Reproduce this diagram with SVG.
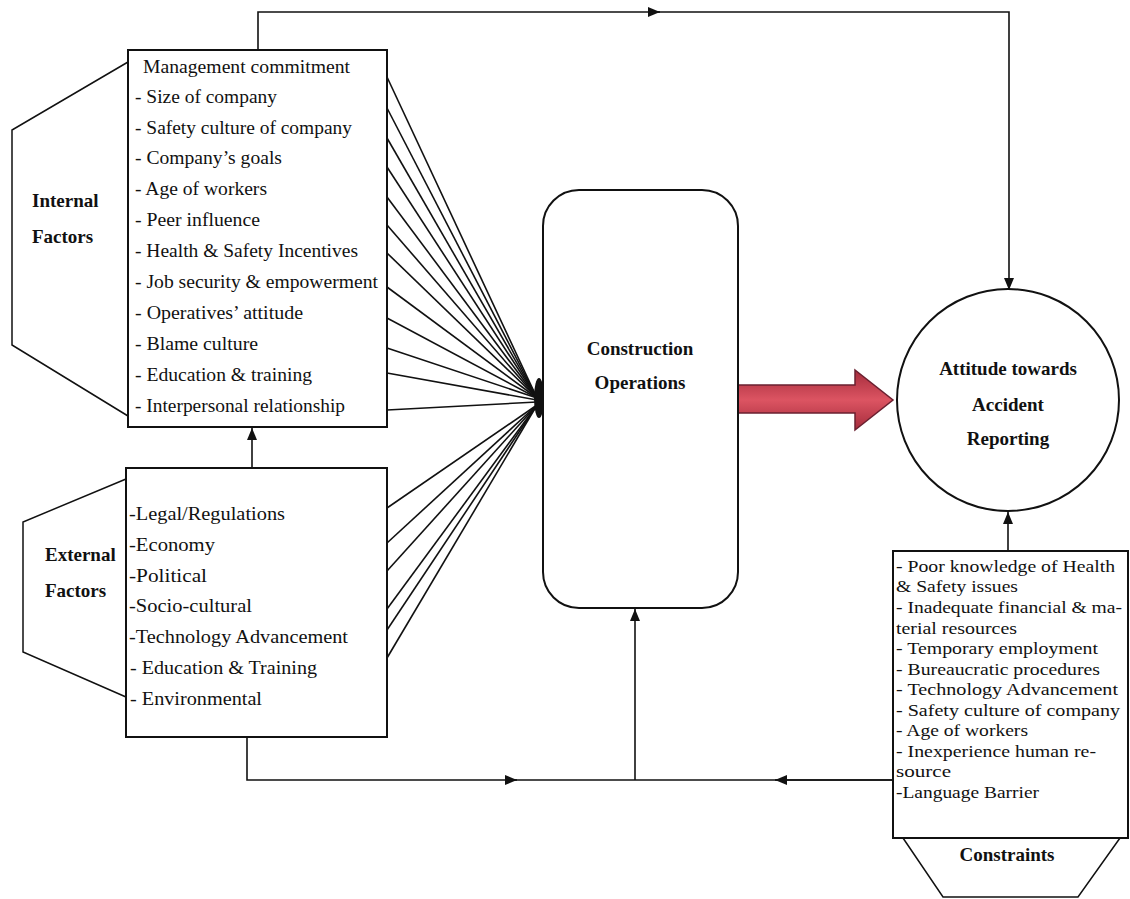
<svg xmlns="http://www.w3.org/2000/svg" width="1130" height="899" viewBox="0 0 1130 899">
<defs>
<style>
.box{fill:#fff;stroke:#111;stroke-width:2}
.thin{fill:none;stroke:#111;stroke-width:1.5}
.ln{fill:none;stroke:#111;stroke-width:1.6}
.it{font-family:"Liberation Serif","Times New Roman",serif;font-size:19px;fill:#111}
.ct{font-family:"Liberation Serif","Times New Roman",serif;font-size:17px;fill:#111}
.bd{font-family:"Liberation Serif","Times New Roman",serif;font-size:19px;font-weight:bold;fill:#111}
</style>
<marker id="ah" markerUnits="userSpaceOnUse" markerWidth="12" markerHeight="10" refX="12" refY="5" orient="auto">
<path d="M0,0 L12,5 L0,10 z" fill="#111"/>
</marker>
<linearGradient id="red" x1="0" y1="0" x2="0" y2="1">
<stop offset="0" stop-color="#a52c3c"/>
<stop offset="0.5" stop-color="#dc5462"/>
<stop offset="1" stop-color="#a52c3c"/>
</linearGradient>
</defs>
<rect width="1130" height="899" fill="#fff"/>

<g id="connectors">
<path class="ln" d="M258,50 L258,12 L660,12" marker-end="url(#ah)"/>
<path class="ln" d="M655,12 L1009,12 L1009,290" marker-end="url(#ah)"/>
<path class="ln" d="M252,467 L252,428" marker-end="url(#ah)"/>
<path class="ln" d="M247,737 L247,780 L517,780" marker-end="url(#ah)"/>
<path class="ln" d="M512,780 L893,780"/>
<path class="ln" d="M893,780 L775,780" marker-end="url(#ah)"/>
<path class="ln" d="M635,780 L635,609" marker-end="url(#ah)"/>
<path class="ln" d="M1008,551 L1008,512" marker-end="url(#ah)"/>
<g class="ln">
<line x1="387" y1="77" x2="537" y2="398"/>
<line x1="387" y1="108" x2="537" y2="398"/>
<line x1="387" y1="138" x2="537" y2="398"/>
<line x1="387" y1="167" x2="537" y2="398"/>
<line x1="387" y1="197" x2="537" y2="398"/>
<line x1="387" y1="225" x2="537" y2="398"/>
<line x1="387" y1="253" x2="537" y2="398"/>
<line x1="387" y1="287" x2="537" y2="398"/>
<line x1="387" y1="318" x2="537" y2="398"/>
<line x1="387" y1="348" x2="537" y2="398"/>
<line x1="387" y1="373" x2="537" y2="400"/>
<line x1="387" y1="410" x2="537" y2="402"/>
<line x1="387" y1="508" x2="537" y2="405"/>
<line x1="387" y1="543" x2="537" y2="405"/>
<line x1="387" y1="571" x2="537" y2="405"/>
<line x1="387" y1="609" x2="537" y2="405"/>
<line x1="387" y1="630" x2="537" y2="405"/>
<line x1="387" y1="658" x2="537" y2="405"/>
</g>
<ellipse cx="539" cy="398" rx="5" ry="20" fill="#111"/>
<polygon points="738,385 855,385 855,370 893,400 855,430 855,413 738,413" fill="url(#red)" stroke="#6a2030" stroke-width="1.5"/>
</g>

<g id="internal">
<path class="thin" d="M128,62 L12,130 L12,345 L128,416"/>
<rect class="box" x="128" y="50" width="259" height="377"/>
<text class="bd" x="32" y="207">Internal</text>
<text class="bd" x="32" y="243">Factors</text>
<text class="it" x="143" y="73" textLength="207" lengthAdjust="spacingAndGlyphs">Management commitment</text>
<text class="it" x="135" y="103" textLength="142" lengthAdjust="spacingAndGlyphs">- Size of company</text>
<text class="it" x="135" y="134" textLength="217" lengthAdjust="spacingAndGlyphs">- Safety culture of company</text>
<text class="it" x="135" y="164" textLength="147" lengthAdjust="spacingAndGlyphs">- Company’s goals</text>
<text class="it" x="135" y="195" textLength="132" lengthAdjust="spacingAndGlyphs">- Age of workers</text>
<text class="it" x="135" y="226" textLength="125" lengthAdjust="spacingAndGlyphs">- Peer influence</text>
<text class="it" x="135" y="257" textLength="223" lengthAdjust="spacingAndGlyphs">- Health &amp; Safety Incentives</text>
<text class="it" x="135" y="288" textLength="243" lengthAdjust="spacingAndGlyphs">- Job security &amp; empowerment</text>
<text class="it" x="135" y="319" textLength="168" lengthAdjust="spacingAndGlyphs">- Operatives’ attitude</text>
<text class="it" x="135" y="350" textLength="123" lengthAdjust="spacingAndGlyphs">- Blame culture</text>
<text class="it" x="135" y="381" textLength="177" lengthAdjust="spacingAndGlyphs">- Education &amp; training</text>
<text class="it" x="135" y="412" textLength="210" lengthAdjust="spacingAndGlyphs">- Interpersonal relationship</text>
</g>

<g id="external">
<path class="thin" d="M126,479 L23,522 L23,652 L126,697"/>
<rect class="box" x="126" y="468" width="261" height="269"/>
<text class="bd" x="45" y="561">External</text>
<text class="bd" x="45" y="597">Factors</text>
<text class="it" x="129" y="520" textLength="156" lengthAdjust="spacingAndGlyphs">-Legal/Regulations</text>
<text class="it" x="129" y="551" textLength="86" lengthAdjust="spacingAndGlyphs">-Economy</text>
<text class="it" x="129" y="582" textLength="78" lengthAdjust="spacingAndGlyphs">-Political</text>
<text class="it" x="129" y="612" textLength="123" lengthAdjust="spacingAndGlyphs">-Socio-cultural</text>
<text class="it" x="129" y="643" textLength="219" lengthAdjust="spacingAndGlyphs">-Technology Advancement</text>
<text class="it" x="130" y="674" textLength="187" lengthAdjust="spacingAndGlyphs">-  Education &amp; Training</text>
<text class="it" x="130" y="705" textLength="132" lengthAdjust="spacingAndGlyphs">-  Environmental</text>
</g>

<g id="construction">
<rect class="box" x="543" y="190" width="195" height="418" rx="36" ry="36"/>
<text class="bd" x="640" y="355" text-anchor="middle">Construction</text>
<text class="bd" x="640" y="389" text-anchor="middle">Operations</text>
</g>

<g id="attitude">
<circle class="box" cx="1008" cy="400" r="111"/>
<text class="bd" x="1008" y="375" text-anchor="middle">Attitude towards</text>
<text class="bd" x="1008" y="411" text-anchor="middle">Accident</text>
<text class="bd" x="1008" y="445" text-anchor="middle">Reporting</text>
</g>

<g id="constraints">
<path class="thin" d="M903,838 L943,897 L1078,897 L1120,838"/>
<rect class="box" x="893" y="551" width="235" height="287"/>
<text class="bd" x="1007" y="861" text-anchor="middle">Constraints</text>
<text class="ct" x="896" y="572" textLength="219" lengthAdjust="spacingAndGlyphs">- Poor knowledge of Health</text>
<text class="ct" x="896" y="592" textLength="122" lengthAdjust="spacingAndGlyphs">&amp; Safety issues</text>
<text class="ct" x="896" y="613" textLength="226" lengthAdjust="spacingAndGlyphs">- Inadequate financial &amp; ma-</text>
<text class="ct" x="896" y="634" textLength="121" lengthAdjust="spacingAndGlyphs">terial resources</text>
<text class="ct" x="896" y="654" textLength="202" lengthAdjust="spacingAndGlyphs">- Temporary employment</text>
<text class="ct" x="896" y="675" textLength="204" lengthAdjust="spacingAndGlyphs">- Bureaucratic procedures</text>
<text class="ct" x="896" y="695" textLength="222" lengthAdjust="spacingAndGlyphs">- Technology Advancement</text>
<text class="ct" x="896" y="716" textLength="224" lengthAdjust="spacingAndGlyphs">- Safety culture of company</text>
<text class="ct" x="896" y="736" textLength="132" lengthAdjust="spacingAndGlyphs">- Age of workers</text>
<text class="ct" x="896" y="757" textLength="200" lengthAdjust="spacingAndGlyphs">- Inexperience human re-</text>
<text class="ct" x="896" y="777" textLength="55" lengthAdjust="spacingAndGlyphs">source</text>
<text class="ct" x="896" y="798" textLength="143" lengthAdjust="spacingAndGlyphs">-Language Barrier</text>
</g>
</svg>
